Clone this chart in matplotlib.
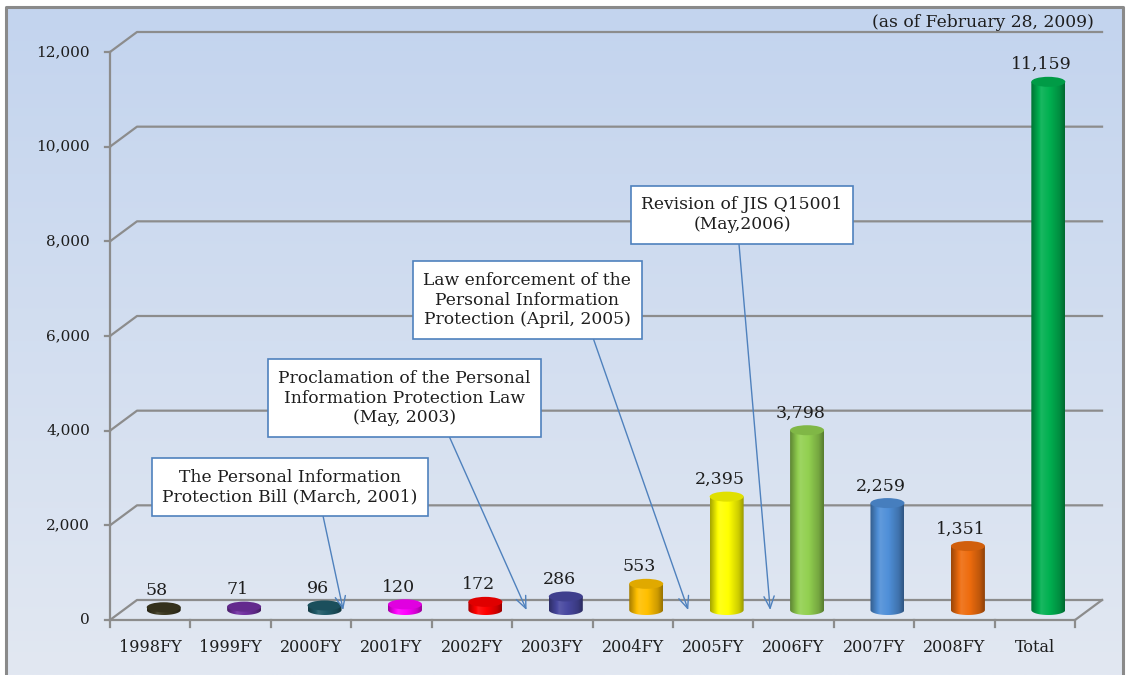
import numpy as np
import matplotlib
matplotlib.use("Agg")
import matplotlib.pyplot as plt
import matplotlib.colors as mcolors
from matplotlib.patches import Ellipse, PathPatch
from matplotlib.path import Path
from matplotlib.lines import Line2D

plt.rcParams['font.family'] = ['DejaVu Serif']

# data
categories = ['1998FY', '1999FY', '2000FY', '2001FY', '2002FY', '2003FY',
              '2004FY', '2005FY', '2006FY', '2007FY', '2008FY', 'Total']
counts = [58, 71, 96, 120, 172, 286, 553, 2395, 3798, 2259, 1351, 11159]
count_labels = ['58', '71', '96', '120', '172', '286', '553', '2,395',
                '3,798', '2,259', '1,351', '11,159']
bar_colors = ['#3b3820', '#7030a0', '#1f5a68', '#ff00ff', '#ff0000', '#4848a0',
              '#ffc000', '#ffff00', '#92d050', '#4f8fd8', '#ee6c0e', '#00b050']
yticks = [0, 2000, 4000, 6000, 8000, 10000, 12000]
ytick_labels = ['0', '2,000', '4,000', '6,000', '8,000', '10,000', '12,000']

notes = ['The Personal Information\nProtection Bill (March, 2001)',
         'Proclamation of the Personal\nInformation Protection Law\n(May, 2003)',
         'Law enforcement of the\nPersonal Information\nProtection (April, 2005)',
         'Revision of JIS Q15001\n(May,2006)']
note_xy = [(1.74, 2810), (3.16, 4690), (4.69, 6760), (7.36, 8560)]
note_target = [2.40, 4.68, 6.69, 7.71]
note_relpos = [(0.62, 0.0), (0.66, 0.0), (0.80, 0.0), (0.48, 0.0)]

W, H = 1129, 675
fig = plt.figure(figsize=(W / 100, H / 100), dpi=100, facecolor='white')

# background gradient inside the frame
bg = fig.add_axes([0, 0, 1, 1])
top_c = np.array(mcolors.to_rgb('#c3d4ee'))
bot_c = np.array(mcolors.to_rgb('#e2e8f2'))
t = np.linspace(0, 1, 256)[:, None]
grad = top_c[None, :] * (1 - t[..., None]) + bot_c[None, :] * t[..., None]
grad = np.repeat(grad, 2, axis=1)
bg.imshow(grad, aspect='auto', extent=[6 / W, 1123 / W, 0, 1 - 7 / H])
bg.set_axis_off()
bg.add_line(Line2D([6 / W, 6 / W, 1123 / W, 1123 / W],
                   [0, 1 - 7 / H, 1 - 7 / H, 0], color='#8a8a8a', lw=2.2))
bg.set_xlim(0, 1)
bg.set_ylim(0, 1)

# main axes: x in category units, y in count units
ax = fig.add_axes([0, 0, 1, 1])
ax.patch.set_alpha(0)
px_x = 80.42           # pixels per category
px_y = 568 / 12000     # pixels per count
x0_px, y0_px = 110, 620
ax.set_xlim(-0.5 - x0_px / px_x, -0.5 + (W - x0_px) / px_x)
ax.set_ylim(-(H - y0_px) / px_y, y0_px / px_y)
ax.set_axis_off()

n = len(categories)
dx = 27 / px_x
dy = 20 / px_y
xl, xr = -0.5, n - 0.5
gc = '#8c8c8c'
tc = '#1e1e1e'

# gridlines on back wall + left side
for v, lab in zip(yticks, ytick_labels):
    ax.plot([xl, xl + dx, xr + dx], [v, v + dy, v + dy], color=gc, lw=1.6, zorder=1)
    ax.plot([xl - 5 / px_x, xl], [v, v], color=gc, lw=1.6, zorder=1)
    ax.text(xl - 20 / px_x, v, lab, ha='right', va='center', fontsize=11,
            color=tc)
ax.plot([xl, xl], [0, yticks[-1]], color=gc, lw=1.6, zorder=1)
# floor
ax.plot([xl, xr, xr + dx], [0, 0, dy], color=gc, lw=1.6, zorder=1)
for k in range(n + 1):
    ax.plot([xl + k, xl + k], [0, -7 / px_y], color=gc, lw=1.6, zorder=1)
for i, c in enumerate(categories):
    ax.text(i, -27 / px_y, c, ha='center', va='center', fontsize=11.5,
            color=tc)


def shade(col, f):
    c = np.array(mcolors.to_rgb(col))
    if f < 0:
        return c * (1 + f)
    return c + (1 - c) * f


# cylinders
w = 34 / px_x
eh = 10 / px_y
base = dy / 2
for i, v in enumerate(counts):
    col = bar_colors[i]
    xc = i + dx / 2
    top = base + v
    s = np.linspace(0, 1, 64)
    f = np.interp(s, [0, 0.3, 0.55, 0.85, 1], [-0.35, 0.1, 0.0, -0.2, -0.4])
    strip = np.array([shade(col, ff) for ff in f])[None, :, :]
    im = ax.imshow(strip, aspect='auto', extent=[xc - w / 2, xc + w / 2, base - eh / 2, top],
                   zorder=3, interpolation='bilinear')
    th = np.linspace(np.pi, 2 * np.pi, 40)
    verts = [(xc - w / 2, top)] + list(zip(xc + w / 2 * np.cos(th), base + eh / 2 * np.sin(th))) + [(xc + w / 2, top), (xc - w / 2, top)]
    clip = PathPatch(Path(verts, closed=True), transform=ax.transData, fc='none', ec='none')
    ax.add_patch(clip)
    im.set_clip_path(clip)
    ax.add_patch(Ellipse((xc, top), w, eh, fc=shade(col, -0.12), ec='none', zorder=4))
    ax.text(i + dx * 0.25, top + 17 / px_y, count_labels[i], ha='center',
            va='center', fontsize=12.5, color=tc, zorder=5)

# annotations
for txt, xy, tx, rp in zip(notes, note_xy, note_target, note_relpos):
    ax.annotate(txt, xy=(tx, base), xytext=xy, ha='center', va='center',
                fontsize=12.3, color=tc, linespacing=1.22, zorder=6,
                bbox=dict(boxstyle='square,pad=0.6', fc='white', ec='#4f81bd', lw=1.2),
                arrowprops=dict(arrowstyle='->,head_length=0.7,head_width=0.3',
                                color='#4f81bd', lw=1.0, relpos=rp,
                                shrinkA=0, shrinkB=0))

ax.text(983 / px_x - 0.5 - x0_px / px_x, (y0_px - 22) / px_y,
        '(as of February 28, 2009)', ha='center', va='center', fontsize=12.3,
        color=tc)

fig.savefig('out.png', dpi=100)
